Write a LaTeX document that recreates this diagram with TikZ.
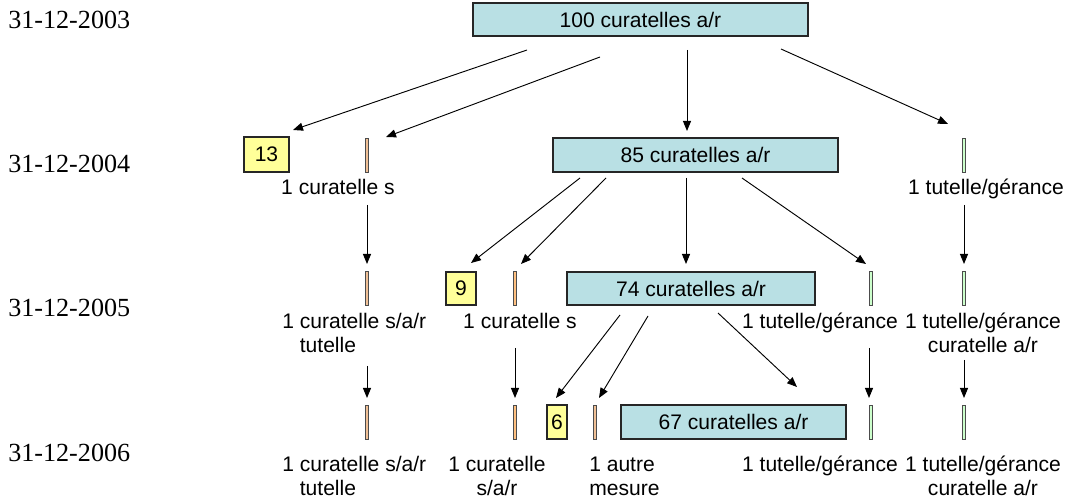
\documentclass[tikz,border=0pt]{standalone}
\usepackage{fontspec}
\setmainfont{Liberation Serif}
\newfontfamily\arialf{Liberation Sans}
\usetikzlibrary{arrows.meta}
\definecolor{boxblue}{RGB}{185,224,228}
\definecolor{boxyellow}{RGB}{255,255,153}
\definecolor{bartan}{RGB}{240,192,150}
\definecolor{barorange}{RGB}{255,192,128}
\definecolor{bargreen}{RGB}{204,255,204}
\begin{document}
\begin{tikzpicture}[x=0.75pt,y=-0.75pt,
  lab/.style={font=\arialf\fontsize{15.8}{18}\selectfont, inner sep=0pt, anchor=base, align=center},
  labl/.style={font=\arialf\fontsize{15.8}{18}\selectfont, inner sep=0pt, anchor=base west, align=left},
  datelab/.style={font=\fontsize{19.6}{24}\selectfont, inner sep=0pt, anchor=base west},
  bbox/.style={draw=black!85, fill=boxblue, line width=0.8pt, inner sep=0pt,
    font=\arialf\fontsize{15.8}{18}\selectfont},
  ybox/.style={draw=black!85, fill=boxyellow, line width=0.8pt, inner sep=0pt,
    font=\arialf\fontsize{15.8}{18}\selectfont},
  tbar/.style={draw=black!70, fill=bartan, line width=0.6pt, inner sep=0pt, minimum width=2.4pt, minimum height=25.5pt},
  obar/.style={draw=black!70, fill=barorange, line width=0.6pt, inner sep=0pt, minimum width=2.4pt, minimum height=25.5pt},
  gbar/.style={draw=black!70, fill=bargreen, line width=0.6pt, inner sep=0pt, minimum width=2.4pt, minimum height=25.5pt},
  arr/.style={-{Triangle[length=7.5pt,width=6pt]}, line width=0.7pt}
]
\fill[white] (0,0) rectangle (1072,502);
\useasboundingbox (0,0) rectangle (1072,502);

% dates
\node[datelab] (d1) at (8,29) {31-12-2003};
\node[datelab] (d2) at (8,173) {31-12-2004};
\node[datelab] (d3) at (8,317) {31-12-2005};
\node[datelab] (d4) at (8,461) {31-12-2006};

% blue boxes
\node[bbox, minimum width=251.25pt, minimum height=24.75pt] (b100) at (640.5,19.5) {100 curatelles a/r};
\node[bbox, minimum width=213.75pt, minimum height=25.5pt] (b85) at (695.5,155) {85 curatelles a/r};
\node[bbox, minimum width=186pt, minimum height=24.75pt] (b74) at (691,288.5) {74 curatelles a/r};
\node[bbox, minimum width=168.75pt, minimum height=25.5pt] (b67) at (733.5,422) {67 curatelles a/r};

% yellow boxes
\node[ybox, minimum width=33.75pt, minimum height=26.25pt] (y13) at (266.5,154.5) {13};
\node[ybox, minimum width=22.5pt, minimum height=24.75pt] (y9) at (461,288.5) {9};
\node[ybox, minimum width=15pt, minimum height=25.5pt] (y6) at (557,422) {6};

% bars
\node[tbar] (o1) at (367,155) {};
\node[tbar] (o2) at (367,288.5) {};
\node[obar] (o3) at (515,288.5) {};
\node[tbar] (o4) at (367,422) {};
\node[obar] (o5) at (515,422) {};
\node[tbar] (o6) at (595,422) {};
\node[gbar] (g1) at (964,155) {};
\node[gbar] (g2) at (870.5,288.5) {};
\node[gbar] (g3) at (964,288.5) {};
\node[gbar] (g4) at (870.5,422) {};
\node[gbar] (g5) at (964,422) {};

% labels (multi-line nodes: base = last line)
\node[lab] (l21) at (338,195) {1 curatelle s};
\node[lab] (l22) at (986,195) {1 tutelle/gérance};
\node[labl] (l31) at (282,353) {1 curatelle s/a/r\\\phantom{1 }tutelle};
\node[lab] (l32) at (520,329) {1 curatelle s};
\node[lab] (l33) at (820,329) {1 tutelle/gérance};
\node[lab] (l34) at (983,353) {1 tutelle/gérance\\curatelle a/r};
\node[labl] (l41) at (282,495) {1 curatelle s/a/r\\\phantom{1 }tutelle};
\node[lab] (l42) at (497,495) {1 curatelle\\s/a/r};
\node[labl] (l43) at (589,495) {1 autre\\mesure};
\node[lab] (l44) at (820,471) {1 tutelle/gérance};
\node[lab] (l45) at (983,495) {1 tutelle/gérance\\curatelle a/r};

% connectors
\foreach \n/\sx/\sy/\ex/\ey in {
  a1/527/50/293/130, a2/600/57/386/137, a3/687/50/687/131, a4/781/49/948/124,
  b1/580/178/471/263, b2/606/178/521/264, b3/686/178/686/264, b4/742/178/866/264,
  b5/367/205/367/264, b6/964/205/964/264,
  c1/367/366/367/398, c2/515/348/515/398, c3/620/315/556/398, c4/648/316/599/398,
  c5/718/313/797/387, c6/869/348/869/398, c7/964/360/964/398}{
  \coordinate (\n s) at (\sx,\sy);
  \coordinate (\n e) at (\ex,\ey);
  \draw[arr] (\n s) -- (\n e);
}
\end{tikzpicture}
\end{document}
